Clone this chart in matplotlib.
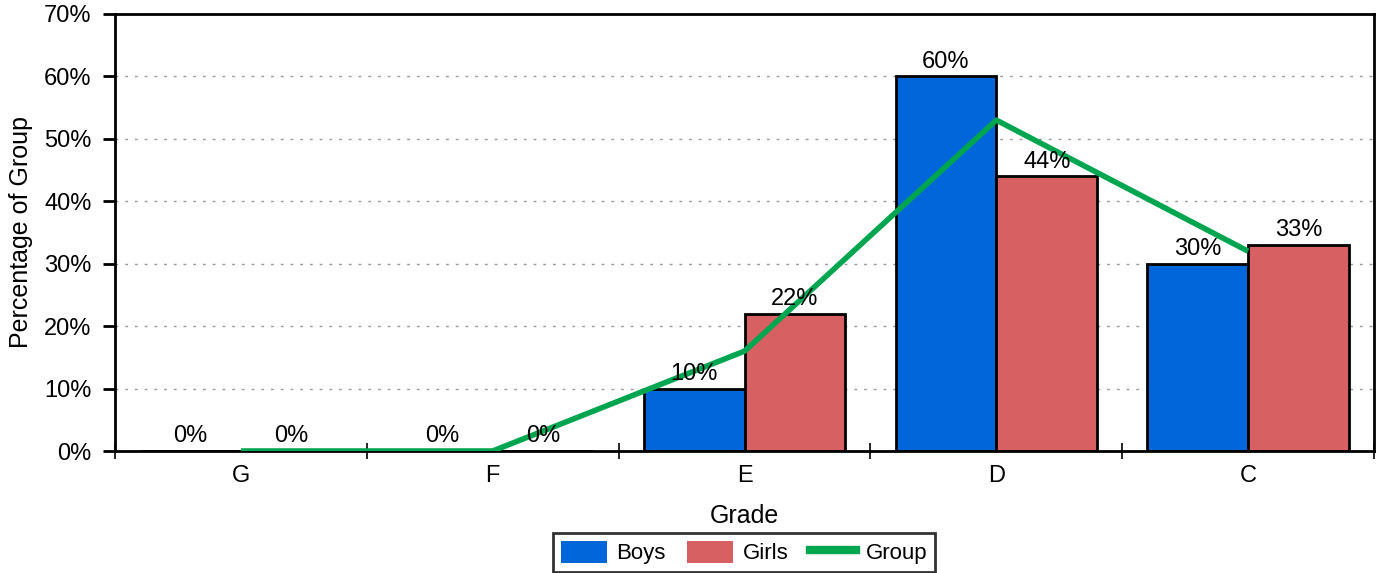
import numpy as np
import matplotlib.pyplot as plt
from matplotlib.patches import Patch
from matplotlib.lines import Line2D

plt.rcParams['font.family'] = ['Liberation Sans', 'DejaVu Sans']

# grade distribution, percent of each group
grades = ['G', 'F', 'E', 'D', 'C']
boys = [0, 0, 10, 60, 30]
girls = [0, 0, 22, 44, 33]
group = [0, 0, 16, 53, 32]

blue = '#0066D9'
red = '#D76063'
green = '#00A550'

fig = plt.figure(figsize=(13.79, 5.73), dpi=100)
ax = fig.add_axes([0.0834, 0.2129, 0.9130, 0.7627])

x = np.arange(len(grades))
w = 0.4
b1 = ax.bar(x - w / 2, boys, w, color=blue, edgecolor='black', linewidth=2, zorder=2)
b2 = ax.bar(x + w / 2, girls, w, color=red, edgecolor='black', linewidth=2, zorder=2)
ax.plot(x, group, color=green, linewidth=4, zorder=3, solid_capstyle='butt')

for bars, vals in ((b1, boys), (b2, girls)):
    for r, v in zip(bars, vals):
        ax.text(r.get_x() + r.get_width() / 2, v + 0.6, f'{v}%',
                ha='center', va='bottom', fontsize=17, zorder=4)

ax.set_xlim(-0.5, len(grades) - 0.5)
ax.set_ylim(0, 70)
ax.set_yticks(range(0, 71, 10))
ax.set_yticklabels([f'{t}%' for t in range(0, 71, 10)], fontsize=17)
ax.set_xticks(x)
ax.set_xticklabels(grades, fontsize=17)
ax.set_xticks(np.arange(-0.5, len(grades)), minor=True)
ax.tick_params(axis='x', which='major', length=0, pad=10)
ax.tick_params(axis='x', which='minor', length=12, width=1.2, direction='inout')
ax.tick_params(axis='y', length=9, width=2, pad=8)

ax.yaxis.grid(True, linestyle=(0, (2, 5)), color='#999999', linewidth=1, zorder=0)
ax.set_axisbelow(True)
for s in ax.spines.values():
    s.set_linewidth(2)

ax.set_xlabel('Grade', fontsize=18, labelpad=12)
ax.set_ylabel('Percentage of Group', fontsize=18, labelpad=8)

handles = [Patch(facecolor=blue, edgecolor='none'),
           Patch(facecolor=red, edgecolor='none'),
           Line2D([0], [0], color=green, linewidth=6)]
leg = fig.legend(handles, ['Boys', 'Girls', 'Group'], loc='upper center',
                 bbox_to_anchor=(744 / 1379, 1 - 533 / 573), ncol=3, fontsize=16,
                 frameon=True, fancybox=False, edgecolor='black',
                 handlelength=2.07, handleheight=1.13, columnspacing=0.95,
                 handletextpad=0.45, borderpad=0.35, borderaxespad=0)
leg.get_frame().set_linewidth(2)

fig.savefig('out.png', dpi=100)
